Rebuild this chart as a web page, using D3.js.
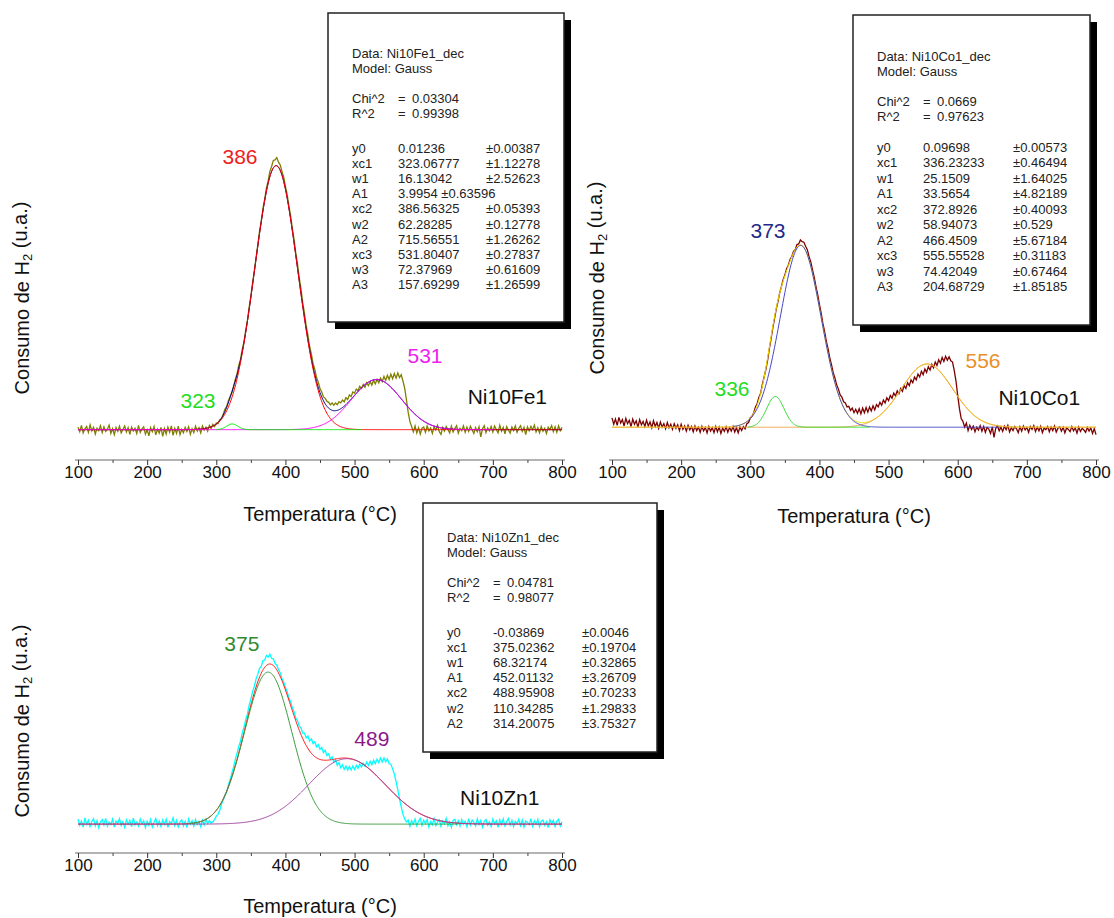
<!DOCTYPE html>
<html>
<head>
<meta charset="utf-8">
<script src="https://cdn.jsdelivr.net/npm/d3@7"></script>
<style>
  body { margin: 0; background: #fff; }
  svg { display: block; font-family: "Liberation Sans", Arial, sans-serif; }
</style>
</head>
<body>
<svg id="chart" width="1114" height="918"></svg>
<script>
// ---- sampling grid and axis ticks ----
const temps = d3.range(100, 800.01, 2.5);          // measured TPR points, °C
const xTicks = [100, 200, 300, 400, 500, 600, 700, 800];
const xMinorTicks = [150, 250, 350, 450, 550, 650, 750];

// ---- measured H2 consumption (a.u.) ----
const fe1Signal = [
  0.10,-0.06,0.16,-0.10,0.04,0.12,-0.08,0.18,-0.03,0.09,
  -0.14,0.06,-0.02,0.15,-0.09,0.11,-0.05,0.03,0.17,-0.12,
  0.05,-0.16,0.09,-0.04,0.13,-0.10,0.02,0.14,-0.07,0.08,
  -0.15,0.10,-0.03,0.06,-0.12,0.16,-0.08,0.04,0.11,-0.14,
  0.01,-0.20,0.08,-0.06,0.12,-0.17,0.03,-0.11,0.09,-0.22,
  0.05,-0.14,0.10,-0.08,0.14,-0.19,0.06,-0.12,0.13,-0.16,
  0.02,-0.10,0.09,-0.05,0.11,-0.15,0.04,-0.09,0.13,-0.04,
  0.08,-0.10,0.14,0.00,0.10,-0.04,0.16,0.05,0.20,0.12,
  0.24,0.22,0.36,0.40,0.55,0.72,0.82,1.02,1.16,1.30,
  1.52,1.76,1.95,2.24,2.45,2.80,3.06,3.46,3.80,4.26,
  4.65,5.12,5.52,5.98,6.42,6.90,7.25,7.70,8.02,8.40,
  8.65,8.98,9.15,9.36,9.38,9.46,9.30,9.20,8.98,8.78,
  8.46,8.18,7.78,7.44,7.00,6.62,6.14,5.76,5.28,4.90,
  4.42,4.06,3.62,3.30,2.90,2.64,2.30,2.10,1.82,1.66,
  1.44,1.32,1.15,1.10,1.00,0.96,0.88,0.94,0.86,0.94,
  0.88,0.98,0.94,1.04,
  0.98,1.12,1.06,1.22,1.16,1.32,1.28,1.42,1.36,1.52,
  1.44,1.58,1.48,1.64,1.54,1.68,1.56,1.72,1.60,1.76,
  1.64,1.80,1.68,1.86,1.72,1.90,1.76,1.94,1.78,1.96,
  1.80,1.98,1.82,1.92,1.70,1.45,1.05,0.62,0.30,0.12,
  -0.06,0.14,-0.10,0.08,-0.14,0.06,
  0.10,-0.08,0.14,-0.03,0.07,-0.12,0.11,0.00,0.16,-0.06,
  -0.15,0.09,-0.04,0.12,0.02,-0.10,0.13,-0.07,0.05,0.15,
  -0.11,0.06,-0.02,0.14,-0.08,0.10,-0.05,0.13,0.01,-0.12,
  0.08,-0.06,0.11,-0.24,0.04,0.15,-0.09,0.07,-0.03,0.12,
  -0.07,0.14,0.02,-0.10,0.16,-0.04,0.09,-0.13,0.12,0.00,
  -0.11,0.10,-0.02,0.14,-0.08,0.06,0.15,-0.05,0.09,-0.16,
  0.11,-0.03,0.13,0.01,0.17,-0.07,0.08,-0.10,0.12,-0.04,
  0.06,-0.12,0.10,0.02,0.15,-0.06,0.11,-0.08,0.14,-0.02,
  0.09
];
const co1Signal = [
  0.42,0.20,0.38,0.16,0.44,0.24,0.36,0.14,0.40,0.22,
  0.34,0.12,0.38,0.20,0.32,0.10,0.36,0.18,0.30,0.12,
  0.34,0.14,0.28,0.08,0.32,0.12,0.26,0.06,0.28,0.10,
  0.22,0.04,0.26,0.08,0.20,0.02,0.22,0.06,0.18,-0.02,
  0.20,0.02,0.14,-0.04,0.16,0.00,0.12,-0.06,0.14,-0.02,
  0.10,-0.08,0.13,-0.03,0.09,-0.10,0.12,-0.04,0.08,-0.09,
  0.12,-0.06,0.10,-0.12,0.07,-0.05,0.11,-0.08,0.09,-0.04,
  0.12,-0.07,0.08,-0.10,0.10,-0.02,0.12,0.04,
  0.22,0.26,0.42,0.48,0.60,0.80,0.92,1.14,1.28,1.58,
  1.84,2.10,2.42,2.82,3.16,3.54,3.86,4.20,4.46,4.76,
  4.98,5.22,5.38,5.60,5.72,5.92,6.02,6.20,6.26,6.44,
  6.46,6.60,6.54,6.52,6.38,6.26,6.02,5.84,5.56,5.30,
  4.98,4.70,4.36,4.06,3.70,3.42,3.08,2.82,2.50,2.26,
  1.98,1.80,1.56,1.42,1.22,1.14,0.98,0.94,0.80,0.82,
  0.68,0.76,0.60,0.72,0.58,0.74,0.56,0.76,0.60,0.78,
  0.62,0.80,0.66,0.84,0.70,0.88,
  0.80,0.96,0.86,1.04,0.94,1.12,1.02,1.20,1.10,1.28,
  1.18,1.36,1.26,1.44,1.34,1.54,1.44,1.64,1.54,1.74,
  1.64,1.84,1.74,1.94,1.84,2.04,1.92,2.12,2.00,2.20,
  2.08,2.28,2.16,2.36,2.24,2.44,2.32,2.52,2.38,2.56,
  2.42,2.54,2.40,2.36,2.06,1.70,1.20,0.74,0.40,0.30,
  0.10,0.24,
  -0.02,0.16,0.02,0.13,-0.06,0.10,0.00,0.15,-0.04,0.12,
  -0.08,0.09,0.03,-0.12,0.11,-0.26,0.06,0.14,-0.03,0.10,
  -0.05,0.13,0.01,0.16,-0.07,0.08,-0.02,0.12,0.04,-0.09,
  0.11,-0.04,0.14,0.00,0.09,-0.08,0.12,0.02,0.15,-0.05,
  0.10,-0.03,0.13,-0.09,0.07,0.01,0.12,-0.06,0.10,-0.02,
  0.14,-0.07,0.06,0.11,-0.04,0.09,-0.10,0.08,0.02,-0.06,
  0.12,-0.03,0.07,-0.11,0.10,-0.05,0.06,0.00,-0.08,0.09,
  -0.04,0.07,-0.12,0.05,-0.16
];
const zn1Signal = [
  0.14,-0.08,0.06,-0.14,0.18,-0.04,0.10,-0.12,0.05,0.15,
  -0.10,0.08,-0.16,0.04,0.12,-0.07,0.16,-0.11,0.03,-0.05,
  0.13,-0.14,0.07,-0.02,0.15,-0.09,0.05,-0.15,0.11,-0.04,
  0.09,-0.13,0.17,-0.06,0.04,-0.10,0.14,-0.03,0.08,-0.16,
  0.06,-0.08,0.12,-0.14,0.03,0.16,-0.09,0.07,-0.12,0.10,
  -0.05,0.13,-0.15,0.05,-0.02,0.18,-0.08,0.09,-0.13,0.04,
  0.11,-0.10,0.06,-0.16,0.14,-0.04,0.08,-0.11,0.12,-0.06,
  0.05,-0.13,0.10,-0.07,0.13,-0.02,0.08,0.00,
  0.04,0.12,0.24,0.30,0.44,0.66,0.80,0.96,1.08,1.32,
  1.50,1.74,1.94,2.20,2.42,2.66,2.84,3.12,3.32,3.58,
  3.78,4.08,4.30,4.56,4.74,5.00,5.16,5.36,5.44,5.64,
  5.66,5.82,5.76,5.86,5.72,5.70,5.54,5.48,5.32,5.22,
  5.02,4.90,4.70,4.56,4.34,4.22,4.00,3.86,3.64,3.56,
  3.36,3.30,3.12,3.12,2.96,3.02,2.84,2.92,2.76,2.82,
  2.64,2.72,2.56,2.62,2.44,2.52,2.34,2.40,2.22,2.30,
  2.12,2.20,2.00,2.10,1.92,2.02,1.86,1.98,1.84,1.96,
  1.84,1.98,1.86,2.00,1.90,2.04,1.94,2.08,1.98,2.12,
  2.00,2.14,2.02,2.18,2.06,2.22,2.10,2.26,2.12,2.26,
  2.12,2.22,2.06,2.04,1.88,1.70,1.44,1.16,0.84,0.56,
  0.30,0.14,0.04,0.10,
  -0.12,0.08,-0.04,0.14,-0.10,0.06,0.16,-0.08,0.10,-0.02,
  0.12,-0.14,0.05,-0.06,0.15,-0.09,0.03,0.11,-0.12,0.07,
  -0.03,0.16,-0.10,0.04,-0.15,0.09,0.13,-0.06,0.08,-0.11,
  0.12,-0.04,0.06,-0.13,0.15,-0.07,0.10,0.02,-0.10,0.14,
  -0.05,0.09,-0.14,0.06,0.12,-0.08,0.04,-0.12,0.13,-0.03,
  0.08,-0.15,0.11,-0.05,0.14,-0.10,0.05,0.16,-0.07,0.09,
  -0.12,0.06,-0.02,0.13,-0.09,0.10,-0.14,0.07,0.02,-0.06,
  0.15,-0.11,0.08,-0.04,0.12,-0.13,0.06,0.10,-0.08,0.05,
  -0.16,0.11,-0.03,0.09,-0.12,0.07,0.13,-0.10,0.04
];

// ---- Gauss fit results (y = y0 + A/(w*sqrt(pi/2)) * exp(-2((x-xc)/w)^2)) ----
const fe1Stats = ["0.03304", "0.99398"];
const fe1Y0 = ["0.01236", "±0.00387"];
const fe1Xc = ["323.06777", "386.56325", "531.80407"];
const fe1XcErr = ["±1.12278", "±0.05393", "±0.27837"];
const fe1W = ["16.13042", "62.28285", "72.37969"];
const fe1WErr = ["±2.52623", "±0.12778", "±0.61609"];
const fe1A = ["3.9954", "715.56551", "157.69299"];
const fe1AErr = ["±0.63596", "±1.26262", "±1.26599"];
const fe1PeakLabels = ["323", "386", "531"];

const co1Stats = ["0.0669", "0.97623"];
const co1Y0 = ["0.09698", "±0.00573"];
const co1Xc = ["336.23233", "372.8926", "555.55528"];
const co1XcErr = ["±0.46494", "±0.40093", "±0.31183"];
const co1W = ["25.1509", "58.94073", "74.42049"];
const co1WErr = ["±1.64025", "±0.529", "±0.67464"];
const co1A = ["33.5654", "466.4509", "204.68729"];
const co1AErr = ["±4.82189", "±5.67184", "±1.85185"];
const co1PeakLabels = ["336", "373", "556"];

const zn1Stats = ["0.04781", "0.98077"];
const zn1Y0 = ["-0.03869", "±0.0046"];
const zn1Xc = ["375.02362", "488.95908"];
const zn1XcErr = ["±0.19704", "±0.70233"];
const zn1W = ["68.32174", "110.34285"];
const zn1WErr = ["±0.32865", "±1.29833"];
const zn1A = ["452.01132", "314.20075"];
const zn1AErr = ["±3.26709", "±3.75327"];
const zn1PeakLabels = ["375", "489"];

const FONT = "'Liberation Sans', Arial, sans-serif";
const svg = d3.select("#chart");

function gauss(t, y0, xc, w, A) {
  return y0 + A / (w * Math.sqrt(Math.PI / 2)) * Math.exp(-2 * Math.pow((t - xc) / w, 2));
}

const panels = [
  {
    sample: "Ni10Fe1", signal: fe1Signal, stats: fe1Stats, y0: fe1Y0,
    xc: fe1Xc, xcErr: fe1XcErr, w: fe1W, wErr: fe1WErr, A: fe1A, AErr: fe1AErr,
    peakLabels: fe1PeakLabels, inlineErr: [0],
    dataColor: "#7f7f00", sumColor: "#000080",
    peakColors: ["#00ee00", "#ff0000", "#ff00ff"],
    labelColors: ["#22dd22", "#ee1c1c", "#ee22ee"],
    peakSpan: [[300, 510], [100, 800], [100, 700]],
    order: ["sum", 1, 2, 0],
    labelAt: [[273.6, 1.04], [334.3, 9.48], [601.9, 2.6]],
    sampleAt: [721, 1.15],
    xRange: [78, 562], axisY: 460, yZero: 430,
    yLabel: [22, 298], titleY: 521,
    box: { x: 328, y: 13, w: 236, h: 309, lx: 352, vx: 398, ex: 486, eqx: 398, first: 57.5, y0Off: 95, step: 15.2 }
  },
  {
    sample: "Ni10Co1", signal: co1Signal, stats: co1Stats, y0: co1Y0,
    xc: co1Xc, xcErr: co1XcErr, w: co1W, wErr: co1WErr, A: co1A, AErr: co1AErr,
    peakLabels: co1PeakLabels, inlineErr: [],
    dataColor: "#7d0000", sumColor: "#f2e600",
    peakColors: ["#33dd33", "#4646c8", "#f0a040"],
    labelColors: ["#22dd22", "#1f2a8a", "#e8902a"],
    peakSpan: [[297, 473], [275, 661], [100, 800]],
    order: ["sum", 2, 1, 0],
    labelAt: [[273.6, 1.45], [325.6, 6.94], [636.6, 2.42]],
    sampleAt: [718, 1.14],
    xRange: [612, 1096], axisY: 460, yZero: 430,
    yLabel: [597, 278], titleY: 523,
    box: { x: 853, y: 15, w: 237, h: 310, lx: 877, vx: 923, ex: 1013, eqx: 923, first: 60.5, y0Off: 91, step: 15.5 }
  },
  {
    sample: "Ni10Zn1", signal: zn1Signal, stats: zn1Stats, y0: zn1Y0,
    xc: zn1Xc, xcErr: zn1XcErr, w: zn1W, wErr: zn1WErr, A: zn1A, AErr: zn1AErr,
    peakLabels: zn1PeakLabels, inlineErr: [],
    dataColor: "#00ffff", sumColor: "#ff1a1a",
    peakColors: ["#3a9a3a", "#a040a0"],
    labelColors: ["#2e8b2e", "#8b1a8b"],
    peakSpan: [[260, 650], [100, 800]],
    order: ["sum", 1, 0],
    labelAt: [[337, 6.25], [525, 2.95]],
    sampleAt: [710, 0.9],
    xRange: [78, 562], axisY: 853, yZero: 823,
    yLabel: [22, 721], titleY: 913,
    box: { x: 423, y: 503, w: 234, h: 249, lx: 447, vx: 493, ex: 582, eqx: 493, first: 541.5, y0Off: 95, step: 15.2 }
  }
];

function drawPanel(p) {
  const x = d3.scaleLinear().domain([100, 800]).range(p.xRange);
  const y = d3.scaleLinear().domain([0, 10]).range([p.yZero, p.yZero - 288]);
  const g = svg.append("g");

  // x axis: base line, major ticks with labels, minor ticks
  const ax = g.append("g").attr("transform", `translate(0,${p.axisY})`);
  ax.append("line")
    .attr("x1", x(100) - 3).attr("x2", x(800) + 3)
    .attr("stroke", "#6a6a6a").attr("stroke-width", 1.2);
  const major = ax.append("g")
    .call(d3.axisBottom(x).tickValues(xTicks).tickSize(5).tickSizeOuter(0).tickFormat(d3.format("d")));
  major.select(".domain").remove();
  major.attr("font-family", FONT).attr("font-size", 17);
  major.selectAll(".tick line").attr("stroke", "#333");
  major.selectAll(".tick text").attr("y", 18).attr("dy", 0).attr("fill", "#111");
  const minor = ax.append("g")
    .call(d3.axisBottom(x).tickValues(xMinorTicks).tickSize(3).tickSizeOuter(0).tickFormat(""));
  minor.select(".domain").remove();
  minor.selectAll(".tick line").attr("stroke", "#444");

  g.append("text")
    .attr("x", (p.xRange[0] + p.xRange[1]) / 2).attr("y", p.titleY)
    .attr("text-anchor", "middle").attr("font-size", 20).attr("fill", "#111")
    .text("Temperatura (°C)");

  const yl = g.append("text")
    .attr("transform", `translate(${p.yLabel[0]},${p.yLabel[1]}) rotate(-90)`)
    .attr("text-anchor", "middle").attr("dominant-baseline", "central")
    .attr("font-size", 20).attr("fill", "#111");
  yl.append("tspan").text("Consumo de H");
  yl.append("tspan").attr("font-size", 13).attr("dy", "0.35em").text("2");
  yl.append("tspan").attr("dy", "-0.35em").text(" (u.a.)");

  // measured signal
  g.append("path")
    .datum(p.signal)
    .attr("fill", "none").attr("stroke", p.dataColor).attr("stroke-width", 1.3)
    .attr("stroke-linejoin", "miter")
    .attr("d", d3.line().x((d, i) => x(temps[i])).y(d => y(d)));

  // fitted curves
  const y0 = +p.y0[0];
  const peaks = p.xc.map((_, i) => ({ xc: +p.xc[i], w: +p.w[i], A: +p.A[i] }));
  const fitT = d3.range(100, 800.001, 1);
  const line = d3.line().x(d => x(d[0])).y(d => y(d[1]));
  p.order.forEach(k => {
    let pts, color;
    if (k === "sum") {
      pts = fitT.map(t => [t, y0 + d3.sum(peaks, pk => gauss(t, 0, pk.xc, pk.w, pk.A))]);
      color = p.sumColor;
    } else {
      const pk = peaks[k];
      pts = fitT.filter(t => t >= p.peakSpan[k][0] && t <= p.peakSpan[k][1])
        .map(t => [t, gauss(t, y0, pk.xc, pk.w, pk.A)]);
      color = p.peakColors[k];
    }
    g.append("path").attr("d", line(pts))
      .attr("fill", "none").attr("stroke", color).attr("stroke-width", 1);
  });

  // peak position labels
  p.peakLabels.forEach((lab, i) => {
    g.append("text")
      .attr("x", x(p.labelAt[i][0])).attr("y", y(p.labelAt[i][1]))
      .attr("text-anchor", "middle").attr("dominant-baseline", "central")
      .attr("font-size", 21).attr("fill", p.labelColors[i]).text(lab);
  });
  g.append("text")
    .attr("x", x(p.sampleAt[0])).attr("y", y(p.sampleAt[1]))
    .attr("text-anchor", "middle").attr("dominant-baseline", "central")
    .attr("font-size", 21).attr("fill", "#111").text(p.sample);

  // fit report box
  const b = p.box;
  const bg = svg.append("g").attr("font-size", 13).attr("fill", "#222");
  bg.append("rect").attr("x", b.x + 7).attr("y", b.y + 7).attr("width", b.w).attr("height", b.h).attr("fill", "#000");
  bg.append("rect").attr("x", b.x).attr("y", b.y).attr("width", b.w).attr("height", b.h)
    .attr("fill", "#fff").attr("stroke", "#222").attr("stroke-width", 1.5);
  const txt = (tx, ty, s) => bg.append("text").attr("x", tx).attr("y", ty).text(s);
  txt(b.lx, b.first, `Data: ${p.sample}_dec`);
  txt(b.lx, b.first + 15, "Model: Gauss");
  txt(b.lx, b.first + 45, "Chi^2");
  txt(b.eqx, b.first + 45, "=");
  txt(b.eqx + 14, b.first + 45, p.stats[0]);
  txt(b.lx, b.first + 60.5, "R^2");
  txt(b.eqx, b.first + 60.5, "=");
  txt(b.eqx + 14, b.first + 60.5, p.stats[1]);
  const rows = [["y0", p.y0[0], p.y0[1], false]];
  peaks.forEach((_, i) => {
    rows.push([`xc${i + 1}`, p.xc[i], p.xcErr[i], false]);
    rows.push([`w${i + 1}`, p.w[i], p.wErr[i], false]);
    rows.push([`A${i + 1}`, p.A[i], p.AErr[i], p.inlineErr.includes(i)]);
  });
  rows.forEach((r, j) => {
    const ty = b.first + b.y0Off + j * b.step;
    txt(b.lx, ty, r[0]);
    if (r[3]) {
      txt(b.vx, ty, `${r[1]} ${r[2]}`);
    } else {
      txt(b.vx, ty, r[1]);
      txt(b.ex, ty, r[2]);
    }
  });
}

panels.forEach(drawPanel);
</script>
</body>
</html>
